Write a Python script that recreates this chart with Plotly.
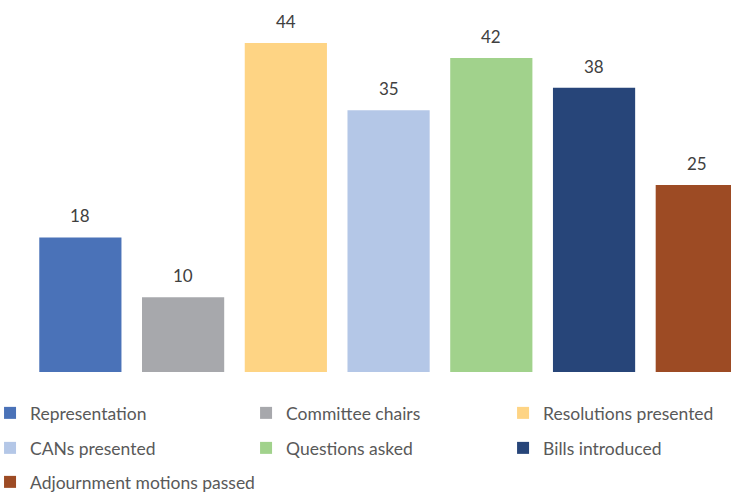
import plotly.graph_objects as go

# Activity counts, one bar per category
categories = [
    "Representation",
    "Committee chairs",
    "Resolutions presented",
    "CANs presented",
    "Questions asked",
    "Bills introduced",
    "Adjournment motions passed",
]
values = [18, 10, 44, 35, 42, 38, 25]
colors = ["#4A72B8", "#A7A8AC", "#FED484", "#B4C7E7", "#A1D28C", "#274579", "#9D4B24"]

# legend grid: three columns, three rows (paper coordinates)
leg_cols = [-0.0555, 0.3092, 0.6753]
leg_rows = [-0.1142, -0.2117, -0.3064]

fig = go.Figure()
layout_legends = {}
for i, (cat, val, col) in enumerate(zip(categories, values, colors)):
    key = "legend" if i == 0 else f"legend{i + 1}"
    fig.add_trace(go.Bar(
        x=[cat], y=[val], name=cat, width=0.8,
        marker=dict(color=col, line=dict(width=0)),
        legend=key, hoverinfo="x+y",
    ))
    layout_legends[key] = dict(
        x=leg_cols[i % 3], y=leg_rows[i // 3],
        orientation="h", xanchor="left", yanchor="middle",
        font=dict(family="Lato", size=17.5, color="#595959"),
        bgcolor="rgba(0,0,0,0)", itemclick=False, itemdoubleclick=False,
    )

# value labels above each bar
for cat, val in zip(categories, values):
    fig.add_annotation(
        x=cat, y=val, text=str(val), showarrow=False,
        yanchor="bottom", yshift=9,
        font=dict(family="Lato", size=17, color="#404040"),
    )

fig.update_layout(
    width=731, height=493,
    margin=dict(l=29, r=0, t=13, b=121, autoexpand=False),
    paper_bgcolor="white", plot_bgcolor="white",
    barmode="overlay", showlegend=True,
    xaxis=dict(visible=False, range=[-0.5, 6.333], type="category",
               categoryorder="array", categoryarray=categories),
    yaxis=dict(visible=False, range=[0, 48]),
    **layout_legends,
)

fig.write_html("out.html")
